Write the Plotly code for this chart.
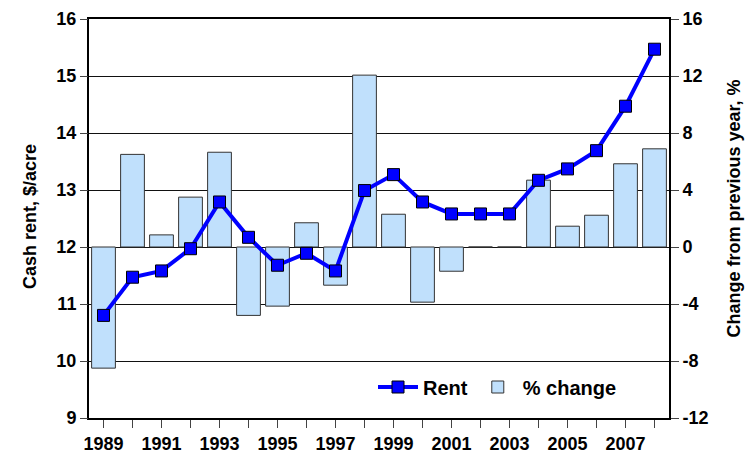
import plotly.graph_objects as go

years = list(range(1989, 2009))
rent = [10.8, 11.47, 11.58, 11.97, 12.79, 12.17, 11.68, 11.89, 11.58, 12.99,
        13.27, 12.79, 12.58, 12.58, 12.58, 13.17, 13.37, 13.69, 14.47, 15.47]
pct_change = [-8.5, 6.5, 0.85, 3.5, 6.65, -4.8, -4.15, 1.7, -2.68, 12.06,
              2.3, -3.87, -1.7, 0.0, 0.0, 4.69, 1.46, 2.23, 5.84, 6.89]
tick_text = [str(y) if y % 2 == 1 else "" for y in years]
pct_ticks = [-12, -8, -4, 0, 4, 8, 12, 16]
pct_tick_text = ["-12", "-8", "-4", "0", "4", "8", "12", "16"]

FONT = "Liberation Sans, Arial, sans-serif"
tf = dict(family=FONT, size=18, color="black", weight="bold")
title_font = dict(family=FONT, size=18, color="black", weight="bold")

# page has an 8px body margin; target plot area in screenshot: x 89..669, y 19..418
OFF = 8
W, H = 754 - OFF, 454 - OFF
L, T = 89 - OFF, 19 - OFF
R, B = W - (669 - OFF), H - (418 - OFF)
PW, PH = W - L - R, H - T - B


def px(xs):
    return (xs - 89) / PW


def py(ys):
    return (418 - ys) / PH


fig = go.Figure()
fig.add_trace(go.Bar(
    x=years, y=pct_change, name="% change", yaxis="y",
    marker=dict(color="rgb(192,224,252)", line=dict(color="#333333", width=1)),
    legendrank=2,
))
fig.add_trace(go.Scatter(
    x=years, y=rent, name="Rent", yaxis="y2", mode="lines+markers",
    line=dict(color="#0000FF", width=4),
    marker=dict(symbol="square", size=12, color="#0000FF",
                line=dict(color="black", width=1)),
    legendrank=1,
))

fig.update_layout(
    width=W, height=H,
    margin=dict(l=L, r=R, t=T, b=B, autoexpand=False),
    paper_bgcolor="white", plot_bgcolor="white",
    bargap=0.18,
    showlegend=True,
    legend=dict(x=px(373), y=py(387), xanchor="left", yanchor="middle",
                orientation="h", bgcolor="rgba(0,0,0,0)",
                font=dict(family=FONT, size=20, color="black", weight="bold"),
                itemwidth=40, tracegroupgap=0),
    xaxis=dict(range=[1988.5, 2008.5], tickvals=years, ticktext=tick_text,
               ticks="outside", ticklen=8, tickcolor="#444444", tickwidth=1,
               showline=True, linecolor="black", linewidth=2, mirror=True,
               showgrid=False, zeroline=False, tickfont=tf, automargin=False),
    yaxis=dict(side="right", range=[-12, 16], tickvals=pct_ticks, ticktext=pct_tick_text,
               ticks="outside", ticklen=8, tickcolor="#444444", tickwidth=1,
               showline=True, linecolor="black", linewidth=2, mirror=True,
               showgrid=True, gridcolor="#111111", gridwidth=1,
               zeroline=False, tickfont=tf, automargin=False),
    yaxis2=dict(side="left", overlaying="y", range=[9, 16], dtick=1,
                ticks="outside", ticklen=8, tickcolor="#444444", tickwidth=1,
                showline=False, showgrid=False, zeroline=False, tickfont=tf,
                automargin=False),
    annotations=[
        dict(text="Cash rent, $/acre", xref="paper", yref="paper",
             x=px(30), y=py(217), textangle=-90,
             showarrow=False, font=title_font, xanchor="center", yanchor="middle"),
        dict(text="Change from previous year, %", xref="paper", yref="paper",
             x=px(733), y=py(208.5), textangle=-90,
             showarrow=False, font=title_font, xanchor="center", yanchor="middle"),
    ],
)

fig.write_html("out.html")
